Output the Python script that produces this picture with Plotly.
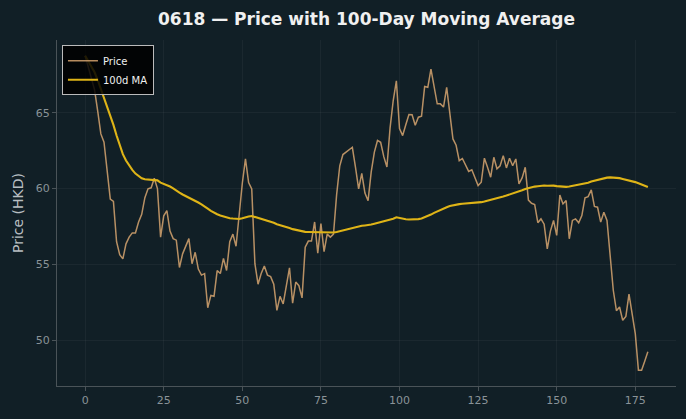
import numpy as np
import pandas as pd
import plotly.graph_objects as go

ticker = "0618"
days = list(range(180))
price = [
    68.75, 68.0, 67.4, 66.5, 65.1, 63.6, 63.05, 61.1, 59.3, 59.15,
    56.5, 55.65, 55.37, 56.36, 56.8, 57.08, 57.08, 57.8, 58.3, 59.4,
    59.98, 60.05, 60.68, 60.0, 56.8, 58.2, 58.55, 57.2, 56.7, 56.6,
    54.8, 55.7, 56.25, 56.7, 55.05, 55.8, 54.7, 54.3, 54.4, 52.15,
    52.96, 52.9, 54.6, 54.4, 55.4, 54.6, 56.5, 57.0, 56.2, 58.3,
    60.35, 61.95, 60.4, 59.98, 55.05, 53.7, 54.4, 54.9, 54.3, 54.2,
    53.7, 51.97, 52.9, 52.4, 53.75, 54.78, 52.45, 53.84, 53.6, 52.8,
    56.14, 56.54, 56.54, 57.8, 55.75, 57.7, 55.85, 57.0, 56.8, 57.0,
    59.6, 61.5, 62.24, 62.4, 62.55, 62.72, 61.4, 59.98, 61.0, 59.7,
    59.2, 61.1, 62.4, 63.17, 63.05, 62.1, 61.42, 64.0, 65.8, 67.1,
    63.95, 63.49, 64.2, 64.87, 64.86, 64.17, 64.7, 64.77, 66.72, 66.67,
    67.87, 66.69, 65.58, 65.58, 65.37, 66.67, 64.95, 63.27, 62.85, 61.84,
    61.98, 61.6, 61.13, 61.24, 60.65, 60.2, 60.42, 62.0, 61.4, 60.75,
    62.06, 61.3, 61.5, 62.17, 61.36, 62.0, 61.5, 61.95, 60.31, 60.7,
    61.4, 59.24, 59.03, 58.95, 57.75, 58.0, 57.65, 56.03, 57.2, 57.9,
    56.91, 59.57, 58.99, 59.21, 56.69, 57.9, 58.0, 57.75, 58.22, 59.39,
    59.47, 59.91, 58.82, 58.77, 57.79, 58.44, 57.9, 55.8, 53.3, 51.95,
    52.2, 51.32, 51.58, 53.05, 51.58, 50.44, 48.03, 48.03, 48.63, 49.25,
]
ma_window = 100
ma = pd.Series(price).rolling(ma_window, min_periods=1).mean().tolist()

x_ticks = [0, 25, 50, 75, 100, 125, 150, 175]
y_ticks = [50, 55, 60, 65]

BG = "#111f26"
TICK = "#8a9398"
GRID = "rgba(255,255,255,0.045)"
SPINE = "#4a5358"

fig = go.Figure()
fig.add_trace(go.Scatter(x=days, y=price, mode="lines", name="Price",
                         line=dict(color="rgba(214,165,112,0.85)", width=1.5)))
fig.add_trace(go.Scatter(x=days, y=ma, mode="lines", name=f"{ma_window}d MA",
                         line=dict(color="#dfb417", width=2.1)))

xmin, xmax = min(days), max(days)
ymin, ymax = min(price + ma), max(price + ma)
xp = (xmax - xmin) * 0.05
yp = (ymax - ymin) * 0.05

fig.update_layout(
    width=686, height=419,
    paper_bgcolor=BG, plot_bgcolor=BG,
    margin=dict(l=57, r=10, t=40, b=33),
    title=dict(text=f"<b>{ticker} — Price with {ma_window}-Day Moving Average</b>",
               x=(57 + 676) / 2 / 686, xanchor="center", y=0.955, yanchor="middle",
               font=dict(family="DejaVu Sans", size=17, color="#f0f0f0")),
    font=dict(family="DejaVu Sans", color=TICK, size=11),
    showlegend=True,
    legend=dict(x=0.008, y=0.985, xanchor="left", yanchor="top",
                bgcolor="rgba(0,0,0,0.85)", bordercolor="#bbbbbb", borderwidth=1,
                font=dict(family="DejaVu Sans", size=10, color="#f0f0f0"),
                tracegroupgap=0, itemwidth=30),
)
fig.update_xaxes(range=[xmin - xp, xmax + xp], tickvals=x_ticks,
                 showgrid=True, gridcolor=GRID, gridwidth=1, zeroline=False,
                 showline=True, linecolor=SPINE, linewidth=1,
                 ticks="outside", ticklen=4, tickcolor=SPINE,
                 tickfont=dict(color=TICK, size=11))
fig.update_yaxes(range=[ymin - yp, ymax + yp], tickvals=y_ticks,
                 showgrid=True, gridcolor=GRID, gridwidth=1, zeroline=False,
                 showline=True, linecolor=SPINE, linewidth=1,
                 ticks="outside", ticklen=4, tickcolor=SPINE,
                 tickfont=dict(color=TICK, size=11),
                 title=dict(text="Price (HKD)", font=dict(color="#b8bec2", size=14), standoff=8))

fig.write_html("out.html")
